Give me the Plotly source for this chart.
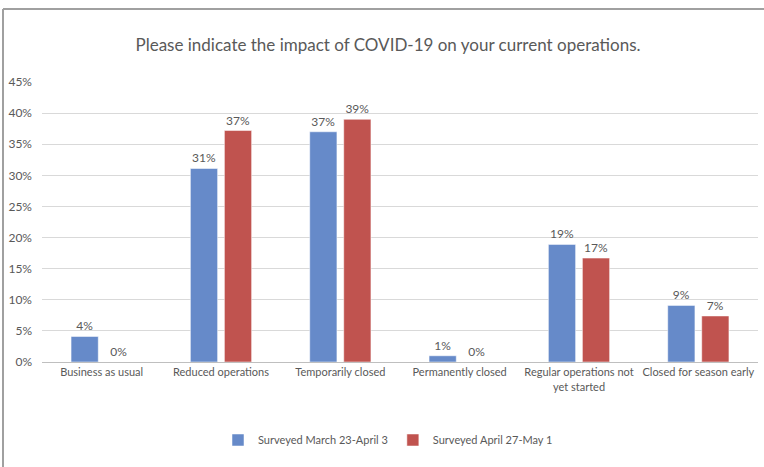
import plotly.graph_objects as go

categories = ['Business as usual', 'Reduced operations', 'Temporarily closed',
              'Permanently closed', 'Regular operations not<br>yet started', 'Closed for season early']
march = [4.1, 31.1, 37.0, 1.0, 18.9, 9.1]
april = [0.0, 37.2, 39.0, 0.0, 16.7, 7.4]
series_names = ['Surveyed March 23-April 3', 'Surveyed April 27-May 1']
y_ticks = [0, 5, 10, 15, 20, 25, 30, 35, 40, 45]

font = 'Lato, sans-serif'
grey = '#595959'

fig = go.Figure()
for vals, name, col in [(march, series_names[0], '#668AC9'), (april, series_names[1], '#C0534F')]:
    fig.add_trace(go.Bar(x=categories, y=vals, name=name, marker_color=col,
                         marker_line=dict(color='white', width=0.5),
                         text=[f'{round(v)}%' for v in vals], textposition='outside',
                         textfont=dict(family=font, size=12, color=grey), cliponaxis=False))

# chart frame (top and left edges)
L, R, T, B = 42, 6, 82, 105
W, H = 764 - L - R, 467 - T - B
def px(x): return (x - L) / W
def py(y): return (467 - B - y) / H
fig.add_shape(type='line', xref='paper', yref='paper', x0=px(3), x1=px(764), y0=py(9), y1=py(9),
              line=dict(color='#A0A0A0', width=2))
fig.add_shape(type='line', xref='paper', yref='paper', x0=px(3), x1=px(3), y0=py(9), y1=py(467),
              line=dict(color='#A0A0A0', width=2))

fig.update_layout(width=764, height=467, margin=dict(l=L, r=R, t=T, b=B, autoexpand=False),
                  paper_bgcolor='white', plot_bgcolor='white',
                  font=dict(family=font, size=11, color=grey),
                  title=dict(text='Please indicate the impact of COVID-19 on your current operations.',
                             x=388 / 764, xanchor='center', yref='container', y=1 - 45 / 467, yanchor='middle',
                             font=dict(family=font, size=17, color=grey)),
                  barmode='group', bargap=0.43, bargroupgap=0.2,
                  legend=dict(orientation='h', x=px(388), xanchor='center', y=py(440), yanchor='middle',
                              font=dict(family=font, size=11, color=grey)),
                  showlegend=True)
fig.update_xaxes(showline=True, linecolor='#BFBFBF', ticks='', tickangle=0, automargin=False,
                 tickfont=dict(size=11, color=grey))
fig.update_yaxes(range=[0, 45], tickvals=y_ticks, ticktext=[f'{v}%' for v in y_ticks], automargin=False,
                 gridcolor='#D9D9D9', zeroline=False, ticklabelstandoff=9, tickfont=dict(size=12, color=grey))
fig.write_html('out.html', config={'displayModeBar': False},
               post_script="document.body.style.margin='0';")
